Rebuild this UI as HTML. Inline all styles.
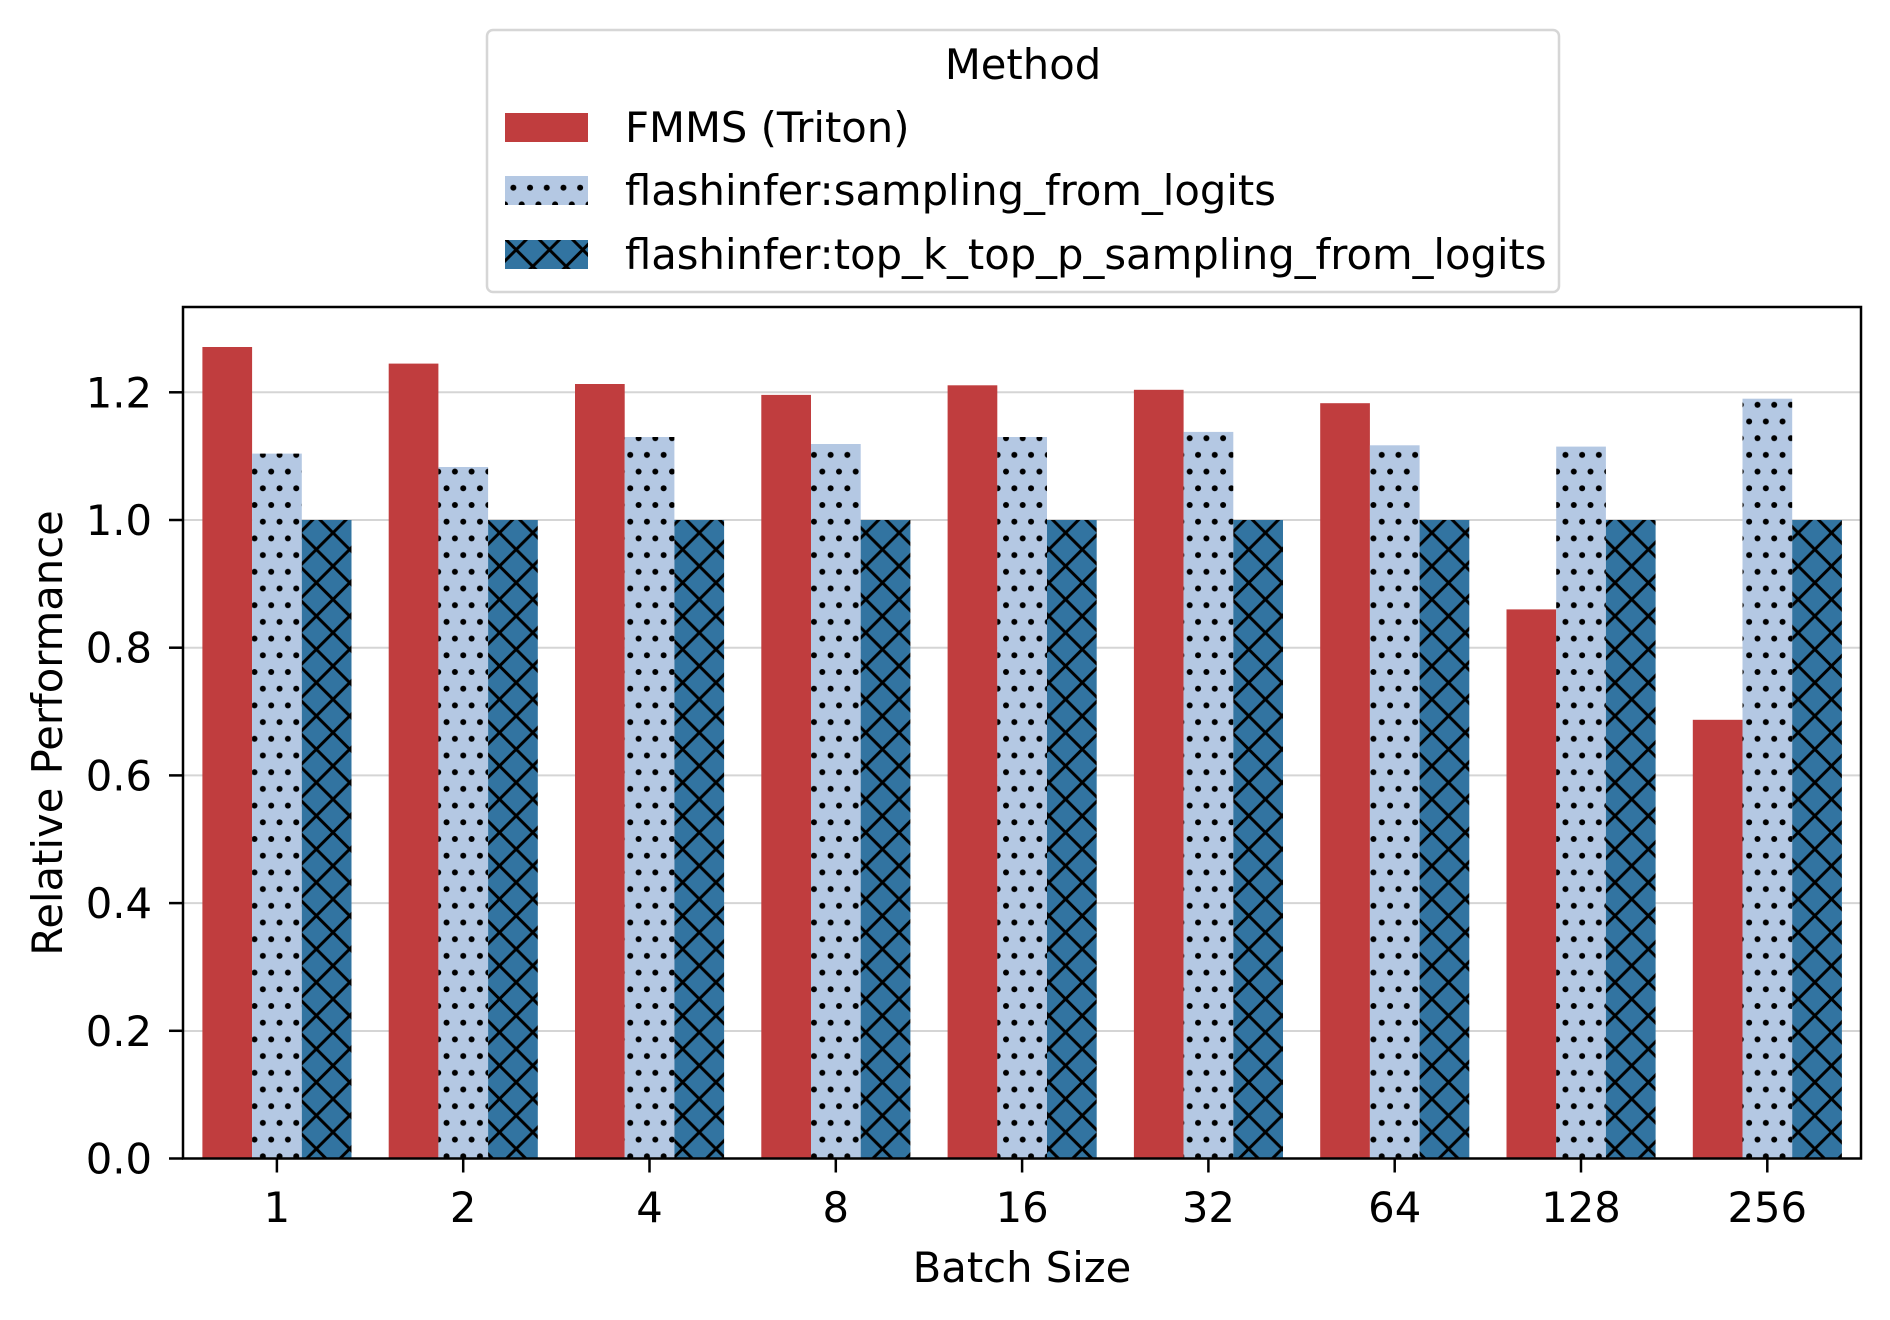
<!DOCTYPE html>
<html><head><meta charset="utf-8"><style>
html,body{margin:0;padding:0;background:#fff;width:1890px;height:1320px;overflow:hidden}
svg{display:block}
text{font-family:"DejaVu Sans","Liberation Sans",sans-serif;fill:#000}
</style></head><body>
<svg width="1890" height="1320" viewBox="0 0 1890 1320" xmlns="http://www.w3.org/2000/svg">
<defs>
<pattern id="dots" patternUnits="userSpaceOnUse" width="16.7" height="33.4">
<rect width="16.7" height="33.4" fill="#b4c8e3"/>
<circle cx="4" cy="4" r="3" fill="#000"/>
<circle cx="12.35" cy="20.7" r="3" fill="#000"/>
</pattern>
<pattern id="cross" patternUnits="userSpaceOnUse" width="33.3" height="33.3">
<rect width="33.3" height="33.3" fill="#3274a1"/>
<path d="M0 0L33.3 33.3M0 33.3L33.3 0M-3 3L3 -3M30.3 36.3L36.3 30.3M-3 30.3L3 36.3M30.3 -3L36.3 3" stroke="#000" stroke-width="3"/>
</pattern>
</defs>
<rect width="1890" height="1320" fill="#fff"/>
<g stroke="#d5d5d5" stroke-width="2">
<line x1="183" x2="1861" y1="1031" y2="1031"/>
<line x1="183" x2="1861" y1="903.1" y2="903.1"/>
<line x1="183" x2="1861" y1="775.4" y2="775.4"/>
<line x1="183" x2="1861" y1="647.7" y2="647.7"/>
<line x1="183" x2="1861" y1="520" y2="520"/>
<line x1="183" x2="1861" y1="392.3" y2="392.3"/>
</g>
<g fill="#c03d3e">
<rect x="202.4" y="347.0" width="49.7" height="811.5"/>
<rect x="388.7" y="363.6" width="49.7" height="794.9"/>
<rect x="575.0" y="384.0" width="49.7" height="774.5"/>
<rect x="761.3" y="394.9" width="49.7" height="763.6"/>
<rect x="947.6" y="385.3" width="49.7" height="773.2"/>
<rect x="1133.9" y="389.8" width="49.7" height="768.7"/>
<rect x="1320.2" y="403.2" width="49.7" height="755.3"/>
<rect x="1506.5" y="609.4" width="49.7" height="549.1"/>
<rect x="1692.8" y="719.8" width="49.7" height="438.7"/>
</g>
<g fill="url(#dots)">
<rect x="252.1" y="453.6" width="49.7" height="704.9"/>
<rect x="438.4" y="467.0" width="49.7" height="691.5"/>
<rect x="624.7" y="437.0" width="49.7" height="721.5"/>
<rect x="811.0" y="444.0" width="49.7" height="714.5"/>
<rect x="997.3" y="437.0" width="49.7" height="721.5"/>
<rect x="1183.6" y="431.9" width="49.7" height="726.6"/>
<rect x="1369.9" y="445.3" width="49.7" height="713.2"/>
<rect x="1556.2" y="446.6" width="49.7" height="711.9"/>
<rect x="1742.5" y="398.7" width="49.7" height="759.8"/>
</g>
<g fill="url(#cross)">
<rect x="301.8" y="520" width="49.7" height="638.5"/>
<rect x="488.1" y="520" width="49.7" height="638.5"/>
<rect x="674.4" y="520" width="49.7" height="638.5"/>
<rect x="860.7" y="520" width="49.7" height="638.5"/>
<rect x="1047.0" y="520" width="49.7" height="638.5"/>
<rect x="1233.3" y="520" width="49.7" height="638.5"/>
<rect x="1419.6" y="520" width="49.7" height="638.5"/>
<rect x="1605.9" y="520" width="49.7" height="638.5"/>
<rect x="1792.2" y="520" width="49.7" height="638.5"/>
</g>
<path d="M183 307H1861V1158.5H183Z" fill="none" stroke="#000" stroke-width="2.5"/>
<g stroke="#000" stroke-width="2.5">
<line x1="169" x2="183" y1="1158.5" y2="1158.5"/>
<line x1="169" x2="183" y1="1030.8" y2="1030.8"/>
<line x1="169" x2="183" y1="903.1" y2="903.1"/>
<line x1="169" x2="183" y1="775.4" y2="775.4"/>
<line x1="169" x2="183" y1="647.7" y2="647.7"/>
<line x1="169" x2="183" y1="520" y2="520"/>
<line x1="169" x2="183" y1="392.3" y2="392.3"/>
</g>
<g font-size="41.7" text-anchor="end">
<text x="152" y="1173.5">0.0</text>
<text x="152" y="1045.8">0.2</text>
<text x="152" y="918.1">0.4</text>
<text x="152" y="790.4">0.6</text>
<text x="152" y="662.7">0.8</text>
<text x="152" y="535">1.0</text>
<text x="152" y="407.3">1.2</text>
</g>
<g stroke="#000" stroke-width="2.5">
<line x1="276.9" x2="276.9" y1="1158.5" y2="1172.5"/>
<line x1="463.2" x2="463.2" y1="1158.5" y2="1172.5"/>
<line x1="649.5" x2="649.5" y1="1158.5" y2="1172.5"/>
<line x1="835.8" x2="835.8" y1="1158.5" y2="1172.5"/>
<line x1="1022.1" x2="1022.1" y1="1158.5" y2="1172.5"/>
<line x1="1208.4" x2="1208.4" y1="1158.5" y2="1172.5"/>
<line x1="1394.7" x2="1394.7" y1="1158.5" y2="1172.5"/>
<line x1="1581" x2="1581" y1="1158.5" y2="1172.5"/>
<line x1="1767.3" x2="1767.3" y1="1158.5" y2="1172.5"/>
</g>
<g font-size="41.7" text-anchor="middle">
<text x="276.9" y="1222">1</text>
<text x="463.2" y="1222">2</text>
<text x="649.5" y="1222">4</text>
<text x="835.8" y="1222">8</text>
<text x="1022.1" y="1222">16</text>
<text x="1208.4" y="1222">32</text>
<text x="1394.7" y="1222">64</text>
<text x="1581" y="1222">128</text>
<text x="1767.3" y="1222">256</text>
<text x="1022" y="1282">Batch Size</text>
<text transform="translate(62,733) rotate(-90)">Relative Performance</text>
</g>
<rect x="487" y="30" width="1072" height="262" rx="6" fill="#fff" fill-opacity="0.8" stroke="#d6d6d6" stroke-width="2.5"/>
<text x="1023" y="79" font-size="41.7" text-anchor="middle">Method</text>
<rect x="505" y="113" width="83" height="29" fill="#c03d3e"/>
<rect x="505" y="176" width="83" height="29" fill="url(#dots)"/>
<rect x="505" y="240" width="83" height="29" fill="url(#cross)"/>
<g font-size="41.7">
<text x="625" y="142">FMMS (Triton)</text>
<text x="625" y="205">flashinfer:sampling_from_logits</text>
<text x="625" y="269">flashinfer:top_k_top_p_sampling_from_logits</text>
</g>
</svg>
</body></html>
